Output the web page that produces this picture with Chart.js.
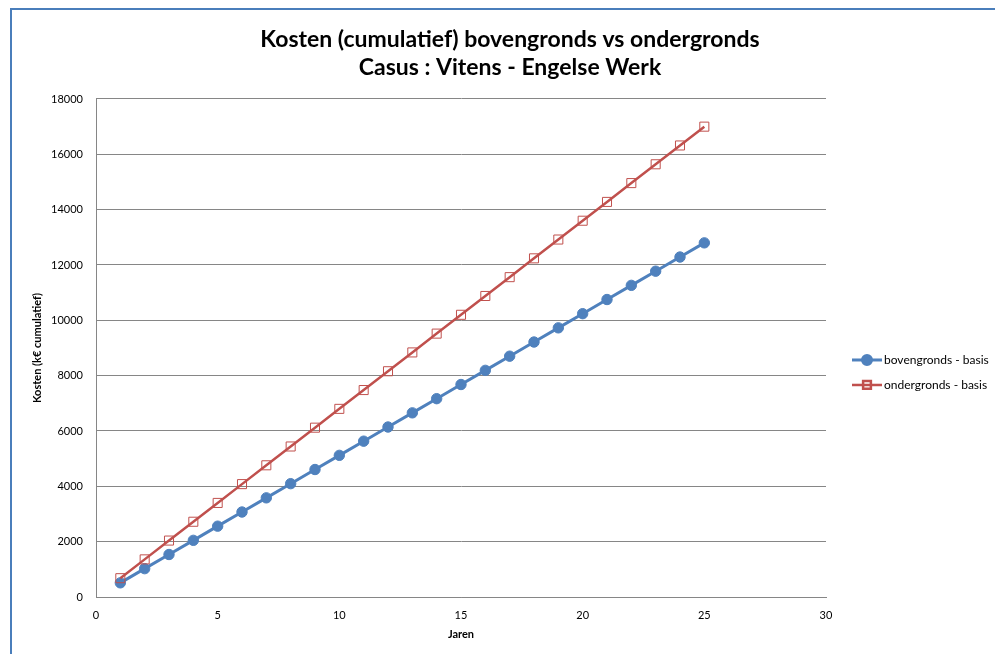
<!DOCTYPE html>
<html>
<head>
<meta charset="utf-8">
<title>Kosten (cumulatief) bovengronds vs ondergronds</title>
<script src="https://cdn.jsdelivr.net/npm/chart.js@4/dist/chart.umd.min.js"></script>
<style>
    html, body { margin: 0; padding: 0; background: #fff; overflow: hidden; }
    #frame {
        position: absolute; left: 10px; top: 8px; width: 2000px; height: 2000px;
        border-left: 2px solid #4a7ebb; border-top: 2px solid #4a7ebb;
    }
    #myChart { position: absolute; left: 0; top: 0; }
</style>
</head>
<body>
<div id="frame"></div>
<canvas id="myChart" width="995" height="654"></canvas>
<script>
// values
const jaren = [1, 2, 3, 4, 5, 6, 7, 8, 9, 10, 11, 12, 13, 14, 15, 16, 17, 18, 19, 20, 21, 22, 23, 24, 25];
const bovengronds = [512, 1024, 1536, 2048, 2560, 3072, 3584, 4096, 4608, 5120, 5632, 6144, 6656, 7168, 7680,
    8192, 8704, 9216, 9728, 10240, 10752, 11264, 11776, 12288, 12800];
const ondergronds = [680, 1360, 2040, 2720, 3400, 4080, 4760, 5440, 6120, 6800, 7480, 8160, 8840, 9520, 10200,
    10880, 11560, 12240, 12920, 13600, 14280, 14960, 15640, 16320, 17000];
const seriesLabels = ['bovengronds - basis', 'ondergronds - basis'];
const titleLines = ['Kosten (cumulatief) bovengronds vs ondergronds', 'Casus : Vitens - Engelse Werk'];
const xTitle = 'Jaren';
const yTitle = 'Kosten (k\u20ac cumulatief)';

const FONT = "Lato, 'Open Sans', sans-serif";
const GRID = '#868686';

document.addEventListener('DOMContentLoaded', function () {
    const ctx = document.getElementById('myChart').getContext('2d');

    function toPoints(values) {
        return jaren.map((j, i) => ({ x: j, y: values[i] }));
    }

    // legend to the right of the plot, line + marker like the original
    const sideLegend = {
        id: 'sideLegend',
        afterDraw(chart) {
            const c = chart.ctx;
            const x0 = chart.chartArea.right + 26;
            chart.data.datasets.forEach((ds, i) => {
                const y = chart.chartArea.top + 261 + i * 25;
                c.save();
                c.strokeStyle = ds.borderColor;
                c.lineWidth = ds.borderWidth;
                c.beginPath();
                c.moveTo(x0, y);
                c.lineTo(x0 + 30, y);
                c.stroke();
                c.fillStyle = ds.pointBackgroundColor;
                c.strokeStyle = ds.pointBorderColor;
                Chart.helpers.drawPoint(c, {
                    pointStyle: ds.pointStyle,
                    radius: ds.pointStyle === 'rect' ? 5.5 : 4.5,
                    borderWidth: ds.pointBorderWidth,
                    rotation: 0
                }, x0 + 15, y);
                c.fillStyle = '#000';
                c.font = '12px ' + FONT;
                c.textBaseline = 'middle';
                c.textAlign = 'left';
                c.fillText(ds.label, x0 + 32, y);
                c.restore();
            });
        }
    };

    new Chart(ctx, {
        type: 'line',
        data: {
            datasets: [{
                label: seriesLabels[0],
                data: toPoints(bovengronds),
                borderColor: '#4f81bd',
                borderWidth: 3,
                pointStyle: 'circle',
                pointRadius: 5.2,
                pointBackgroundColor: '#4f81bd',
                pointBorderColor: '#4f81bd',
                pointBorderWidth: 1,
                order: 1
            }, {
                label: seriesLabels[1],
                data: toPoints(ondergronds),
                borderColor: '#c0504d',
                borderWidth: 2.5,
                pointStyle: 'rect',
                pointRadius: 6.4,
                pointBackgroundColor: 'rgba(255,255,255,0)',
                pointBorderColor: '#c0504d',
                pointBorderWidth: 1,
                order: 0
            }]
        },
        options: {
            responsive: false,
            animation: false,
            devicePixelRatio: 1,
            layout: { padding: { left: 25, right: 0, top: 0, bottom: 0 } },
            plugins: {
                legend: { display: false },
                tooltip: { enabled: false },
                title: {
                    display: true,
                    text: titleLines,
                    color: '#000',
                    font: { family: FONT, size: 23, weight: 'bold', lineHeight: 1.217 },
                    padding: { top: 26, bottom: 17 }
                }
            },
            scales: {
                x: {
                    type: 'linear',
                    min: 0,
                    max: 30,
                    ticks: { stepSize: 5, color: '#000', font: { family: FONT, size: 11 }, padding: 12 },
                    grid: { display: false, drawTicks: false },
                    border: { display: true, color: GRID, width: 1 },
                    title: {
                        display: true, text: xTitle, color: '#000',
                        font: { family: FONT, size: 11, weight: 'bold' },
                        padding: { top: 0, bottom: 13 }
                    },
                    afterFit(scale) { scale.height = 57; }
                },
                y: {
                    min: 0,
                    max: 18000,
                    ticks: {
                        stepSize: 2000, color: '#000', font: { family: FONT, size: 11 }, padding: 13,
                        callback: v => String(v)
                    },
                    grid: { color: GRID, lineWidth: 1, drawTicks: false },
                    border: { display: true, color: GRID, width: 1 },
                    title: {
                        display: true, text: yTitle, color: '#000',
                        font: { family: FONT, size: 11, weight: 'bold' },
                        padding: { top: 6, bottom: 0 }
                    },
                    afterFit(scale) { scale.width = 71; }
                },
                // empty axis that keeps room for the legend on the right
                legendRoom: {
                    type: 'linear',
                    position: 'right',
                    ticks: { display: false },
                    grid: { display: false, drawTicks: false },
                    border: { display: false },
                    afterFit(scale) { scale.width = 169; }
                }
            }
        },
        plugins: [sideLegend]
    });
});
</script>
</body>
</html>
